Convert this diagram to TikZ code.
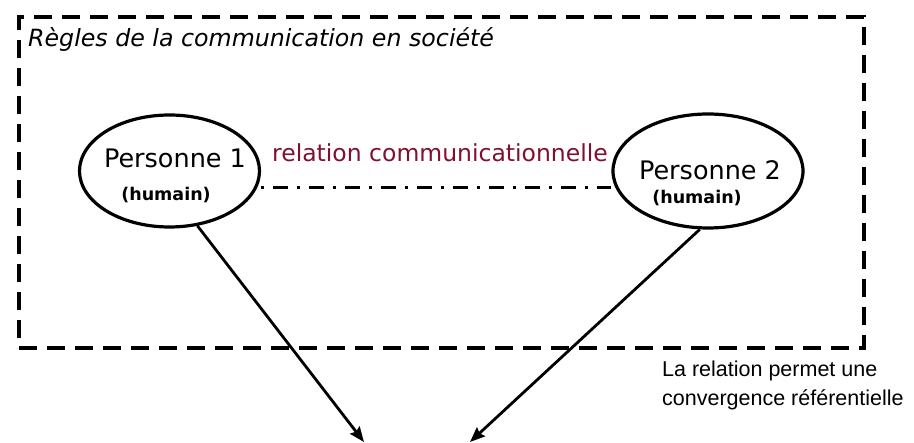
\documentclass[tikz,border=0pt]{standalone}
\usepackage{fontspec}
\setmainfont{DejaVu Sans}
\newfontfamily\arialfont{Liberation Sans}
\usetikzlibrary{shapes.geometric,arrows.meta}
\definecolor{relred}{RGB}{128,16,48}
\tikzset{
  person/.style={ellipse, draw, line width=3.2pt, inner sep=0pt},
  frame/.style={draw, line width=4pt, dash pattern=on 18pt off 10pt},
  link/.style={line width=3pt, dash pattern=on 3pt off 9pt on 15pt off 9pt},
  arrow/.style={line width=2.8pt, -{Stealth[length=15pt,width=12pt,inset=2pt]}},
  pname/.style={font=\fontsize{25.5}{30}\selectfont, inner sep=0pt},
  psub/.style={font=\fontsize{17.5}{21}\selectfont\bfseries, inner sep=0pt},
}
\begin{document}
\begin{tikzpicture}[x=1pt,y=-1pt]
\useasboundingbox (0,0) rectangle (914,443);
\node[frame, minimum width=845pt, minimum height=331pt, anchor=north west, inner sep=0pt] (box) at (17,15) {};
\node[anchor=base west, inner sep=0pt, font=\fontsize{23.7}{28}\selectfont\itshape] (rules) at (28,47) {Règles de la communication en société};
\node[person, minimum width=180pt, minimum height=112pt] (p1) at (169.5,171) {};
\node[person, minimum width=190pt, minimum height=114pt] (p2) at (708,171) {};
\node[pname] (p1name) at (175,158) {Personne 1};
\node[psub] (p1sub) at (166,195) {(humain)};
\node[pname] (p2name) at (710,170) {Personne 2};
\node[psub] (p2sub) at (697,198) {(humain)};
\node[inner sep=0pt, text=relred, font=\fontsize{23.5}{28}\selectfont] (rel) at (440,153) {relation communicationnelle};
\draw[link] (p1.east |- 0,188) -- (p2.west |- 0,188);
\node[anchor=north west, inner sep=0pt, align=left, font=\arialfont\fontsize{21.5}{29}\selectfont] (note) at (662,361) {La relation permet une\\convergence référentielle};
\coordinate (t1) at (364,442);
\coordinate (t2) at (470,442);
\draw[arrow] (p1.297) -- (t1);
\draw[arrow] (p2.262) -- (t2);
\end{tikzpicture}
\end{document}
